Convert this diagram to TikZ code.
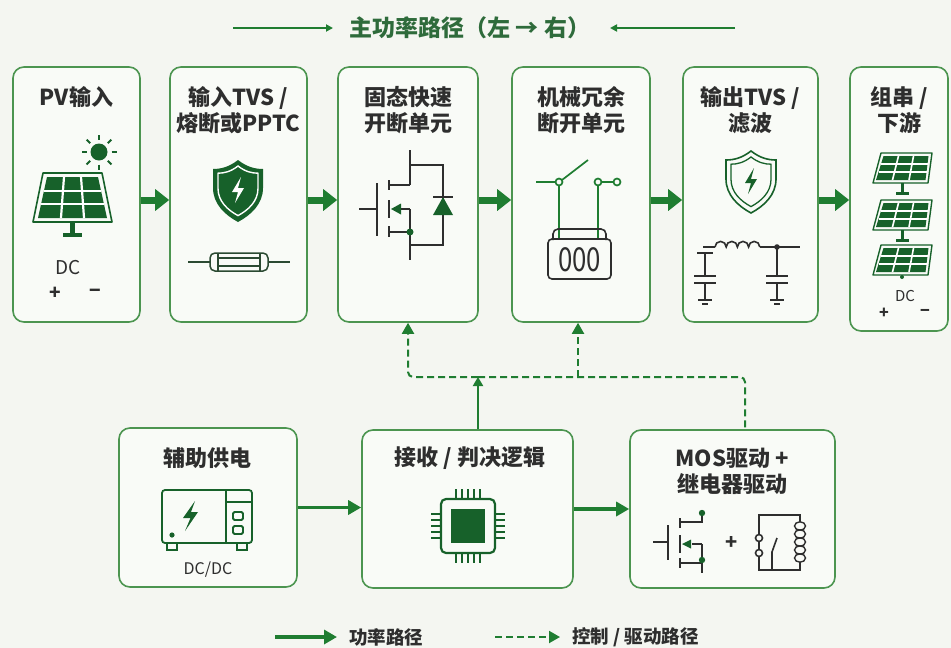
\documentclass[tikz,border=0pt]{standalone}
\usepackage{fontspec}
\setmainfont{Noto Sans CJK SC}
\usetikzlibrary{arrows.meta,calc}

\definecolor{pagebg}{HTML}{F4F6F1}
\definecolor{boxbg}{HTML}{F9FBF7}
\definecolor{boxedge}{HTML}{4C9550}
\definecolor{flow}{HTML}{1F7D31}
\definecolor{deepgreen}{HTML}{17612A}
\definecolor{inkgray}{HTML}{2E2E2E}
\definecolor{titlegreen}{HTML}{2E6B3B}
\definecolor{fuseink}{HTML}{2B4A32}

% shield outline around its own centre
\newcommand{\shieldshape}{(0,-30) .. controls (-9,-23) and (-17,-21) .. (-25,-21) -- (-25,-2) .. controls (-25,14) and (-13,25) .. (0,32) .. controls (13,25) and (25,14) .. (25,-2) -- (25,-21) .. controls (17,-21) and (9,-23) .. (0,-30) -- cycle}
\newcommand{\boltshape}{(3,-13) -- (-6,2) -- (0,2) -- (-3,13) -- (6,-2) -- (0,-2) -- cycle}

\tikzset{
  stage/.style={draw=boxedge, line width=1.6pt, fill=boxbg, rounded corners=11pt, inner sep=0pt},
  heading/.style={font=\bfseries\fontsize{22}{26}\selectfont, text=inkgray, align=center, inner sep=0pt},
  smalltext/.style={font=\fontsize{16}{18}\selectfont, text=inkgray, inner sep=0pt},
  legendtext/.style={font=\bfseries\fontsize{18.5}{20}\selectfont, text=inkgray, inner sep=0pt},
  powerarrow/.style={draw=flow, line width=7pt, -{Triangle[length=14pt,width=21pt]}},
  feedarrow/.style={draw=flow, line width=3.5pt, -{Triangle[length=13pt,width=14pt]}},
  ctrldash/.style={draw=flow, line width=2pt, dash pattern=on 7pt off 4pt, rounded corners=5pt},
  ctrltip/.style={-{Triangle[length=11pt,width=12pt]}},
  icon/.style={draw=deepgreen, line width=1.8pt},
  wire/.style={draw=inkgray, line width=1.6pt},
}

\begin{document}
\begin{tikzpicture}[x=1pt,y=-1pt]

\useasboundingbox[fill=pagebg] (0,0) rectangle (951,648);

% Heading of the main power path
\node[font=\bfseries\fontsize{23}{26}\selectfont, text=titlegreen, inner sep=0pt] (maintitle) at (470,28) {主功率路径（左 → 右）};
\coordinate (tlA) at (233,28); \coordinate (tlAend) at (333,28);
\coordinate (tlB) at (735,28); \coordinate (tlBend) at (610,28);
\draw[flow, line width=1.8pt, -{Triangle[length=7pt,width=7pt]}] (tlA) -- (tlAend);
\draw[flow, line width=1.8pt, -{Triangle[length=7pt,width=7pt]}] (tlB) -- (tlBend);

% Power stages
\node[stage, minimum width=127pt, minimum height=255pt] (pv) at (76.5,194.5) {};
\node[stage, minimum width=137pt, minimum height=255pt] (tvsin) at (238.5,194.5) {};
\node[stage, minimum width=140pt, minimum height=255pt] (sstate) at (408,194.5) {};
\node[stage, minimum width=138pt, minimum height=255pt] (mech) at (581,194.5) {};
\node[stage, minimum width=135pt, minimum height=255pt] (tvsout) at (750.5,194.5) {};
\node[stage, minimum width=98pt, minimum height=264pt] (strg) at (899,199) {};

\node[heading] (pvname) at (76.5,97) {PV输入};
\node[heading] (tvsinname) at (238.5,110) {输入TVS /\\熔断或PPTC};
\node[heading] (sstatename) at (408,110) {固态快速\\开断单元};
\node[heading] (mechname) at (581,110) {机械冗余\\断开单元};
\node[heading] (tvsoutname) at (750.5,110) {输出TVS /\\滤波};
\node[heading] (strgname) at (899,110) {组串 /\\下游};

% Control stages
\node[stage, minimum width=178pt, minimum height=159pt] (aux) at (208,507.5) {};
\node[stage, minimum width=211pt, minimum height=158pt] (logic) at (467.5,509) {};
\node[stage, minimum width=205pt, minimum height=158pt] (drv) at (732.5,509) {};

\node[heading] (auxname) at (207,458) {辅助供电};
\node[heading] (logicname) at (470,458) {接收 / 判决逻辑};
\node[heading] (drvname) at (732,471) {MOS驱动 +\\继电器驱动};

% PV panel with sun
\draw[icon, line width=1.6pt, line join=round] (43,173) -- (102,173) -- (112,222) -- (33,222) -- cycle;
\fill[deepgreen] (47,177) -- (98,177) -- (107,218) -- (38,218) -- cycle;
\foreach \u in {0.333,0.667} {
  \draw[white, line width=2.2pt] ($(47,177)!\u!(98,177)$) -- ($(38,218)!\u!(107,218)$);
  \draw[white, line width=2.2pt] ($(47,177)!\u!(38,218)$) -- ($(98,177)!\u!(107,218)$);
}
\fill[deepgreen] (70,222) rectangle (75,235);
\fill[deepgreen] (63,233) rectangle (82,237);
\fill[deepgreen] (99,152) circle (8.5pt);
\foreach \ang in {0,45,...,315}
  \draw[deepgreen, line width=2pt] ($(99,152)+(\ang:12.5pt)$) -- ($(99,152)+(\ang:17.5pt)$);
\node[smalltext, font=\fontsize{19}{20}\selectfont] (pvdc) at (68,268) {DC};
\node[smalltext, font=\bfseries\fontsize{19}{20}\selectfont] (pvplus) at (55,293) {+};
\node[smalltext, font=\bfseries\fontsize{19}{20}\selectfont] (pvminus) at (95,293) {−};

% Input TVS shield and fuse
\begin{scope}[shift={(238,190)}]
  \fill[deepgreen] \shieldshape;
  \draw[white, line width=1.4pt, scale=0.8] \shieldshape;
  \fill[white] \boltshape;
\end{scope}
\draw[fuseink, line width=1.5pt] (188,262) -- (210,262) (268,262) -- (290,262);
\draw[fuseink, line width=1.5pt, rounded corners=5pt] (210,253) rectangle (268,271);
\draw[fuseink, line width=1.2pt] (218,253) -- (218,271) (260,253) -- (260,271);
\draw[fuseink, line width=1.1pt] (218,258) -- (260,258) (218,266) -- (260,266);

% MOSFET with body diode
\draw[wire] (359,209) -- (377,209) (377,183) -- (377,236);
\draw[wire] (389,180) -- (389,190) (389,200) -- (389,218) (389,226) -- (389,237);
\draw[wire] (389,185) -- (410,185) (410,150) -- (410,185);
\draw[wire] (389,232) -- (410,232) (410,209) -- (410,260) (400,209) -- (410,209);
\fill[deepgreen] (391,209) -- (401,203.5) -- (401,214.5) -- cycle;
\fill[deepgreen] (410,232) circle (3.5pt);
\draw[wire] (410,165) -- (443,165) -- (443,245) -- (410,245);
\fill[deepgreen] (443,197) -- (453,215) -- (433,215) -- cycle;
\draw[wire] (433,197) -- (453,197);

% Mechanical relay contact and counter
\draw[flow, line width=1.7pt] (536,182) -- (555.5,182) (562,180) -- (588,160);
\draw[flow, line width=1.7pt] (559,182) circle (3.5pt) (598,182) circle (3.5pt) (617,182) circle (3.5pt);
\draw[flow, line width=1.7pt] (601.5,182) -- (613.5,182);
\draw[flow, line width=1.7pt] (559,185.5) -- (559,239) (598,185.5) -- (598,239);
\draw[wire, rounded corners=5pt] (553,240) -- (553,229) -- (606,229) -- (606,240);
\draw[wire, rounded corners=4pt] (548,239) rectangle (611,279);
\node[inner sep=0pt, text=inkgray, font=\fontsize{33}{33}\selectfont] (counter) at (579.5,260) {\scalebox{0.78}[1]{000}};

% Output TVS shield and LC filter
\begin{scope}[shift={(751,181)}]
  \draw[deepgreen, line width=1.6pt] \shieldshape;
  \draw[deepgreen, line width=1.3pt, scale=0.8] \shieldshape;
  \fill[deepgreen] \boltshape;
\end{scope}
\draw[wire] (703,247) -- (715,247);
\draw[wire] (715,247) arc[start angle=180, end angle=0, radius=5.6pt]
  arc[start angle=180, end angle=0, radius=5.6pt]
  arc[start angle=180, end angle=0, radius=5.6pt]
  arc[start angle=180, end angle=0, radius=5.6pt];
\draw[wire] (759.8,247) -- (800,247);
\fill[inkgray] (777,247) circle (2.8pt);
\foreach \cx/\ctop in {705/253, 777/247} {
  \draw[wire] (\cx,\ctop) -- (\cx,276) (\cx,283) -- (\cx,300);
  \draw[wire] (\cx-11,276) -- (\cx+11,276) (\cx-11,283) -- (\cx+11,283);
  \draw[wire] (\cx-7,300) -- (\cx+7,300) (\cx-3,304) -- (\cx+3,304);
}
\draw[wire] (697,253) -- (713,253);

% Downstream string of panels
\foreach \py in {153,200,245} {
  \draw[icon, line width=1.4pt, line join=round] (881,\py) -- (932,\py) -- (928,\py+30) -- (873,\py+30) -- cycle;
  \fill[deepgreen] (883.5,\py+3) -- (928.5,\py+3) -- (925.5,\py+27) -- (876,\py+27) -- cycle;
  \foreach \u in {0.333,0.667} {
    \draw[white, line width=1.6pt] ($(883.5,\py+3)!\u!(928.5,\py+3)$) -- ($(876,\py+27)!\u!(925.5,\py+27)$);
    \draw[white, line width=1.6pt] ($(883.5,\py+3)!\u!(876,\py+27)$) -- ($(928.5,\py+3)!\u!(925.5,\py+27)$);
  }
}
\foreach \py in {183,230} {
  \fill[deepgreen] (900.5,\py) rectangle (904,\py+11);
  \fill[deepgreen] (896,\py+9) rectangle (908.5,\py+12);
}
\fill[deepgreen] (902,277) circle (2pt);
\node[smalltext, font=\fontsize{15}{16}\selectfont] (strgdc) at (905,296) {DC};
\node[smalltext, font=\bfseries\fontsize{16}{16}\selectfont] (strgplus) at (884,313) {+};
\node[smalltext, font=\bfseries\fontsize{16}{16}\selectfont] (strgminus) at (925,313) {−};

% DC/DC converter
\draw[icon, rounded corners=3pt] (162,490) rectangle (252,543);
\draw[icon] (226,490) -- (226,543) (226,502) -- (252,502);
\draw[icon, rounded corners=1.5pt] (233,512) rectangle (243,520) (233,526) rectangle (243,534);
\draw[icon, line width=1.6pt] (167,543) -- (167,550) -- (177,550) -- (177,543) (237,543) -- (237,550) -- (247,550) -- (247,543);
\fill[deepgreen] (172,535) circle (2.6pt);
\fill[deepgreen] (195,501) -- (183,518) -- (190.5,518) -- (185,531) -- (198,512) -- (191,512) -- cycle;
\node[smalltext] (auxdc) at (208,570) {DC/DC};

% Logic chip
\draw[icon, line width=2.2pt, rounded corners=5pt] (441,499) rectangle (495,553);
\fill[deepgreen] (451,509) rectangle (485,543);
\foreach \k in {-12,-6,0,6,12} {
  \draw[deepgreen, line width=1.6pt] (468+\k,489) -- (468+\k,499) (468+\k,553) -- (468+\k,563);
  \draw[deepgreen, line width=1.6pt] (431,526+\k) -- (441,526+\k) (495,526+\k) -- (505,526+\k);
}

% MOS driver and relay coil
\draw[wire] (653,542) -- (668,542) (668,525) -- (668,560);
\draw[wire] (680,518) -- (680,528) (680,535) -- (680,553) (680,558) -- (680,568);
\draw[wire] (680,522) -- (702,522) -- (702,513);
\draw[wire] (680,563) -- (702,563) (702,544) -- (702,573) (692,544) -- (702,544);
\fill[deepgreen] (682,544) -- (691,539.5) -- (691,548.5) -- cycle;
\fill[deepgreen] (702,513) circle (3.2pt) (702,560) circle (3.2pt);
\node[font=\bfseries\fontsize{20}{20}\selectfont, text=inkgray, inner sep=0pt] (drvplus) at (732,543) {+};
\draw[wire] (759,534.5) -- (759,515) -- (800,515) -- (800,522);
\draw[wire] (759,541.5) -- (759,549.5) (759,556.5) -- (759,570) -- (800,570) -- (800,562);
\draw[wire] (759,538) circle (3.5pt) (759,553) circle (3.5pt);
\draw[wire] (772,570) -- (772,552) -- (777,538);
\foreach \k in {0,...,4}
  \draw[wire, line width=1.4pt] (800,526+\k*8) ellipse (5.5pt and 4.2pt);

% Power path arrows
\foreach \a/\b in {pv/tvsin, tvsin/sstate, sstate/mech, mech/tvsout, tvsout/strg}
  \draw[powerarrow] ([yshift=-5.5pt]\a.east) -- ([yshift=-5.5pt]\a.east -| \b.west);

% Supply and drive arrows
\draw[feedarrow] (aux.east) -- (aux.east -| logic.west);
\draw[feedarrow] (logic.east) -- (drv.west);

% Control / drive signals
\coordinate (ctlsplit) at (478,377);
\draw[flow, line width=2pt, -{Triangle[length=9pt,width=10pt]}] (logic.north -| ctlsplit) -- (ctlsplit);
\draw[ctrldash, ctrltip] (ctlsplit) -| (sstate.south);
\draw[ctrldash] (ctlsplit) -| ([xshift=12.5pt]drv.north);
\draw[ctrldash, ctrltip] ([xshift=-3pt]mech.south |- ctlsplit) -- ([xshift=-3pt]mech.south);

% Legend
\coordinate (lgA) at (275,637); \coordinate (lgB) at (337,637);
\coordinate (lgC) at (495,637); \coordinate (lgD) at (560,637);
\draw[feedarrow] (lgA) -- (lgB);
\node[legendtext, anchor=west] (lgpower) at (349,637) {功率路径};
\draw[ctrldash, ctrltip] (lgC) -- (lgD);
\node[legendtext, anchor=west] (lgctrl) at (572,637) {控制 / 驱动路径};

\end{tikzpicture}
\end{document}
